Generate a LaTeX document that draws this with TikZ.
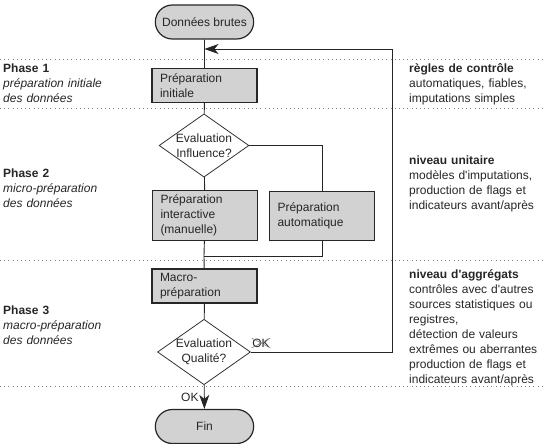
\documentclass[tikz,border=0pt]{standalone}
\usepackage{fontspec}
\setmainfont{Liberation Sans}
\usetikzlibrary{shapes.geometric,shapes.misc,arrows.meta}

\newcommand{\apos}{\textquotesingle}

\tikzset{
	every node/.style={font=\fontsize{12}{15}\selectfont, text=black!85},
	terminal/.style={rounded rectangle, draw=black!85, line width=1.2pt, fill=gray!35, minimum width=105pt, minimum height=34pt},
	etape/.style={rectangle, draw=black!85, line width=1.2pt, fill=gray!35, minimum width=105pt, minimum height=34pt, text width=89pt, inner xsep=8pt, align=left},
	decision/.style={diamond, aspect=1.42, draw=black!80, line width=0.8pt, fill=white, inner sep=0pt, align=center},
	lien/.style={draw=black!85, line width=0.9pt},
	fleche/.style={lien, -{Stealth[length=14pt, width=10pt, inset=4pt]}},
	separation/.style={gray, line width=1pt, dash pattern=on 1pt off 3.2pt},
	phase/.style={anchor=base west, inner sep=0pt, text width=130pt, align=left}
}

\begin{document}
\begin{tikzpicture}[x=1pt, y=-1pt]
		\useasboundingbox (0,0) rectangle (543,444);

		% Lignes de séparation des phases
		\draw[separation] (0,60) -- (543,60);
		\draw[separation] (0,108) -- (543,108);
		\draw[separation] (0,260) -- (543,260);
		\draw[separation] (0,386) -- (543,386);

		% Etapes du processus
		\node[terminal] (brutes) at (204.5,22) {Données brutes};
		\node[etape] (initiale) at (204.5,85.5) {Préparation\\initiale};
		\node[decision] (influence) at (204,145.5) {Evaluation\\Influence?};
		\node[etape, minimum height=50pt] (interactive) at (205,215.5) {Préparation\\interactive\\(manuelle)};
		\node[etape, minimum height=49pt] (automatique) at (322,216) {Préparation\\automatique};
		\node[etape] (macro) at (204.5,286) {Macro-\\préparation};
		\node[decision] (qualite) at (204,352) {Evaluation\\Qualité?};
		\node[terminal] (fin) at (204.5,426.5) {Fin};

		% Liaisons
		\coordinate (jonction) at (204,256);
		\coordinate (retour) at (392,49);
		\draw[lien] (brutes) -- (initiale);
		\draw[lien] (initiale) -- (influence);
		\draw[lien] (influence) -- (interactive);
		\draw[lien] (influence.east) -| (automatique.north);
		\draw[lien] (interactive) -- (jonction);
		\draw[lien] (automatique.south) |- (jonction);
		\draw[lien] (jonction) -- (macro);
		\draw[lien] (macro) -- (qualite);

		% Sortie OK
		\draw[fleche] (qualite) -- node[left=2pt] {OK} (fin);

		% Retour si la qualité n'est pas OK
		\draw[fleche] (qualite.east) -| (retour) -- (retour -| brutes.south);
		\node[inner sep=0.5pt] (refus) at (261,343) {OK};
		\draw[gray, line width=0.6pt] (refus.south west) -- (refus.north east);
		\draw[gray, line width=0.6pt] (refus.north west) -- (refus.south east);

		% Phases (à gauche)
		\node[phase] (phase1) at (3,72) {\textbf{Phase 1}\\\textit{préparation initiale}\\\textit{des données}};
		\node[phase] (phase2) at (3,177.5) {\textbf{Phase 2}\\\textit{micro-préparation}\\\textit{des données}};
		\node[phase] (phase3) at (3,314) {\textbf{Phase 3}\\\textit{macro-préparation}\\\textit{des données}};

		% Remarques (à droite)
		\node[phase] (regles) at (409,72) {\textbf{règles de contrôle}\\automatiques, fiables,\\imputations simples};
		\node[phase] (unitaire) at (409,164) {\textbf{niveau unitaire}\\modèles d\apos imputations,\\production de flags et\\indicateurs avant/après};
		\node[phase] (agregats) at (409,278) {\textbf{niveau d\apos aggrégats}\\contrôles avec d\apos autres\\sources statistiques ou\\registres,\\détection de valeurs\\extrêmes ou aberrantes\\production de flags et\\indicateurs avant/après};
	\end{tikzpicture}
\end{document}
